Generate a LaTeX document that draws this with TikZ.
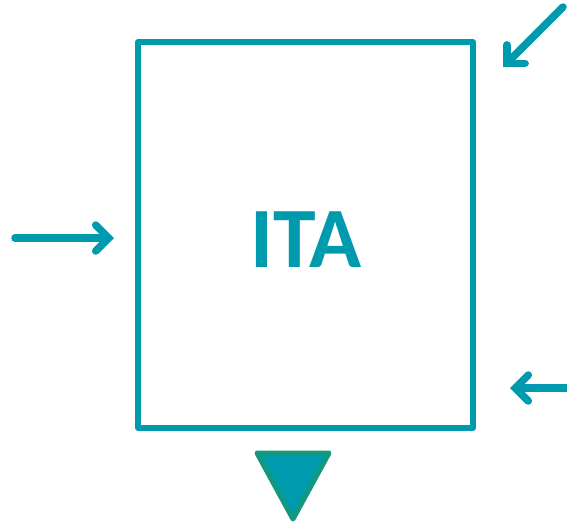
\documentclass[tikz,border=0pt]{standalone}
\usepackage{fontspec}
\setsansfont{Carlito}
\usetikzlibrary{arrows.meta}
\definecolor{itateal}{HTML}{009AAE}
\definecolor{itagreen}{HTML}{12987E}
\tikzset{
  flowarrow/.style={itateal, line width=7.5pt, line cap=round,
    -{Straight Barb[line cap=round, line join=miter, length=13pt, width=26pt]}},
  itabox/.style={draw=itateal, line width=5.5pt, line join=round,
    minimum width=335pt, minimum height=386pt, inner sep=0pt}
}
\begin{document}
\begin{tikzpicture}[x=1pt,y=-1pt]
\useasboundingbox (0,0) rectangle (567,528);
\node [itabox] (ita) at (305.5,235) {};
\node [text=itateal, font=\sffamily\bfseries\fontsize{86}{86}\selectfont] (label) at (306,240) {ITA};
% inputs
\coordinate (inleft) at (15,238);
\coordinate (tipleft) at (114,238);
\coordinate (intop) at (563,7);
\coordinate (tiptop) at (503,67);
\coordinate (inright) at (567,388);
\coordinate (tipright) at (510,388);
\draw [flowarrow] (inleft) -- (tipleft);
\draw [flowarrow] (intop) -- (tiptop);
\draw [flowarrow] (inright) -- (tipright);
% output
\draw [fill=itateal, draw=itagreen, line width=5pt, line join=round] (257,453) -- (329,453) -- (293,519) -- cycle;
\end{tikzpicture}
\end{document}
